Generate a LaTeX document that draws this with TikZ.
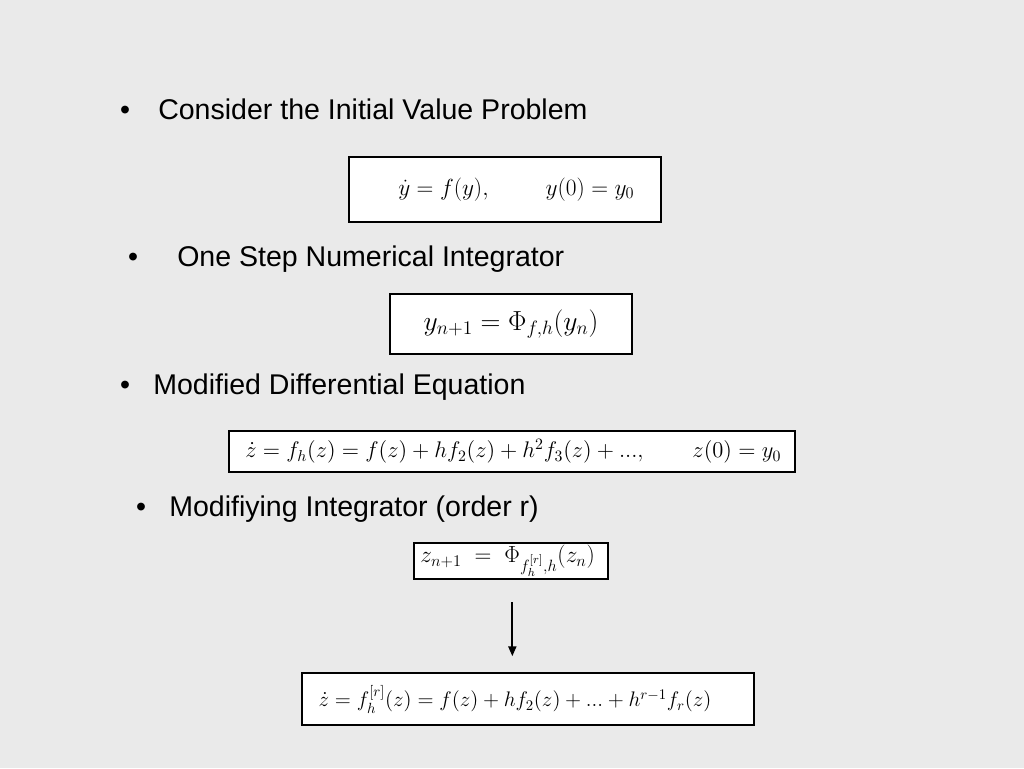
\RequirePackage{fix-cm}
\documentclass[tikz,border=0pt]{standalone}
\usepackage{amsmath}
\usepackage{fontspec}
\setmainfont{Liberation Sans}
\usetikzlibrary{positioning,arrows.meta}
\definecolor{slidebg}{HTML}{EAEAEA}

\begin{document}
\begin{tikzpicture}[x=0.75pt,y=-0.75pt,>={Triangle[length=7.5pt,width=6pt]},
  bullet/.style={font=\fontsize{21.4}{25}\selectfont,anchor=base,inner sep=0pt},
  item/.style={font=\fontsize{21.4}{25}\selectfont,anchor=base west,inner sep=0pt},
  eqbox/.style={draw,fill=white,line width=1.1pt,inner sep=0pt}]
  \fill[slidebg] (0,0) rectangle (1024,768);
  \useasboundingbox (0,0) rectangle (1024,768);

  % bullets
  \node[bullet] (b1) at (125,119) {•};
  \node[bullet] (b2) at (133,266) {•};
  \node[bullet] (b3) at (125,394) {•};
  \node[bullet] (b4) at (141,516) {•};
  \node[item] (t1) at (158,119) {Consider the Initial Value Problem};
  \node[item] (t2) at (177,266) {One Step Numerical Integrator};
  \node[item] (t3) at (153,394) {Modified Differential Equation};
  \node[item] (t4) at (169,516) {Modifiying Integrator (order r)};

  % equations
  \node[eqbox,line width=1.9pt,minimum width=234pt,minimum height=48.75pt,
    font=\fontsize{17.5}{21}\selectfont] (ivp) at (505,189.5)
    {\hspace{17pt}$\dot y = f(y),\qquad\; y(0) = y_0$};
  \node[eqbox,line width=0.9pt,minimum width=181.5pt,minimum height=45pt,
    font=\fontsize{20.7}{24}\selectfont] (step) at (511,324)
    {$y_{n+1} = \Phi_{f,h}(y_n)$};
  \node[eqbox,minimum width=424.5pt,minimum height=30.75pt,
    font=\fontsize{16.95}{20}\selectfont] (mde) at (512,451.5)
    {\kern2pt$\dot z = f_h(z) = f(z) + hf_2(z) + h^2f_3(z) + ...,\qquad z(0) = y_0$};
  \node[eqbox,minimum width=145.5pt,minimum height=27pt,
    font=\fontsize{17.5}{20}\selectfont] (modint) at (511,561)
    {$z_{n+1}\; =\; \Phi_{f_h^{[r]},h}(z_n)$\kern5pt};
  \node[eqbox,minimum width=339pt,minimum height=39pt,
    font=\fontsize{15.8}{19}\selectfont] (mfield) at (528,699)
    {$\dot z = f_h^{[r]}(z) = f(z) + hf_2(z) + ... + h^{r-1}f_r(z)$\kern19.5pt};

  \draw[->,line width=1.5pt,shorten <=17pt,shorten >=12pt]
    ([xshift=1pt]modint.south) -- ([xshift=1pt]modint.south |- mfield.north);
\end{tikzpicture}
\end{document}
